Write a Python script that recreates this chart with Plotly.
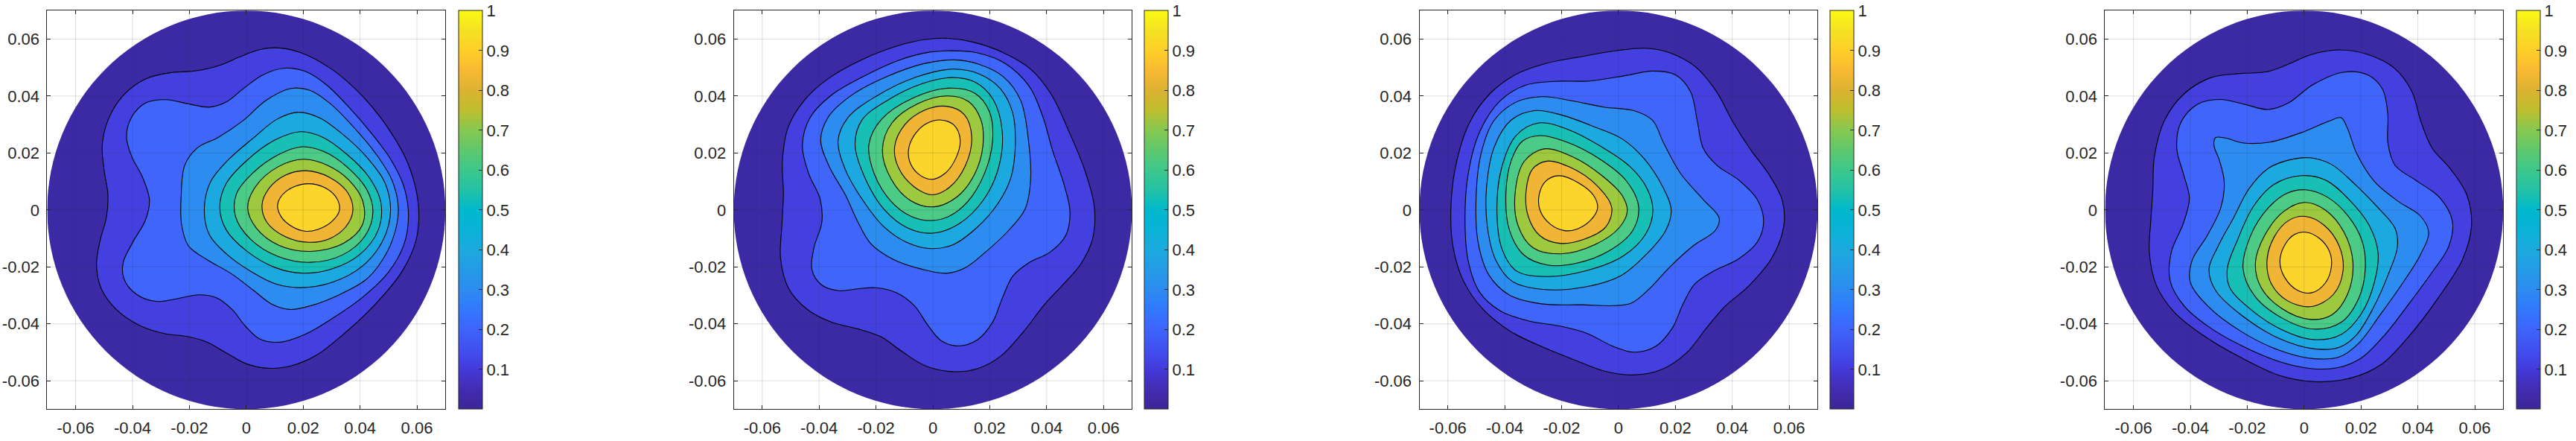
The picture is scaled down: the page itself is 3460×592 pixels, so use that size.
import plotly.graph_objects as go

# Contour levels and the colour of the band inside each one
LEVELS = [0.1, 0.2, 0.3, 0.4, 0.5, 0.6, 0.7, 0.8, 0.9]
DISK_COLOR = "#3c2aa5"
BAND_COLORS = ["#4440e0", "#4065fb", "#2c8cf0", "#1ca9df", "#18bfb5",
               "#4ccb86", "#9dc93f", "#f0b534", "#fbd52c"]
TICKS = [-0.06, -0.04, -0.02, 0, 0.02, 0.04, 0.06]
TICK_LABELS = ["-0.06", "-0.04", "-0.02", "0", "0.02", "0.04", "0.06"]
CBAR_TICKS = [0.1, 0.2, 0.3, 0.4, 0.5, 0.6, 0.7, 0.8, 0.9, 1]
CBAR_LABELS = ["0.1", "0.2", "0.3", "0.4", "0.5", "0.6", "0.7", "0.8", "0.9", "1"]
CBAR_SCALE = [
    [0.0, "rgb(60,38,150)"], [0.05, "rgb(66,44,178)"], [0.1, "rgb(68,58,218)"],
    [0.15, "rgb(66,80,240)"], [0.2, "rgb(62,100,252)"], [0.25, "rgb(50,120,252)"],
    [0.3, "rgb(44,140,240)"], [0.35, "rgb(36,155,230)"], [0.4, "rgb(28,170,222)"],
    [0.45, "rgb(10,178,215)"], [0.5, "rgb(0,184,205)"], [0.55, "rgb(36,194,165)"],
    [0.6, "rgb(60,200,140)"], [0.65, "rgb(95,200,108)"], [0.7, "rgb(135,200,80)"],
    [0.75, "rgb(190,190,45)"], [0.8, "rgb(220,178,50)"], [0.85, "rgb(250,185,50)"],
    [0.9, "rgb(253,207,40)"], [0.95, "rgb(245,225,35)"], [1.0, "rgb(250,250,20)"],
]

# Isolines, (x, y) in thousandths of an axis unit
P1_L1 = [(10.4,56.8),(18.6,55.6),(30.3,49.2),(40.8,40.3),(50.1,27.5),(56.6,17.6),(60.7,0.8),(59.5,-10.1),(54.8,-21.9),(45.5,-32.8),(34.9,-42.7),(24.4,-51.6),(16.2,-54.2),(8.1,-55.7),(-0.1,-54.2),(-7.1,-50.1),(-14.1,-46.1),(-21.2,-44.2),(-28.2,-43.7),(-37.5,-40.7),(-45.7,-34.8),(-51,-27.9),(-52.7,-19),(-51.5,-11),(-49,-2.2),(-48.4,4.7),(-50.1,14.6),(-50.7,22.5),(-48.6,31.4),(-43.4,40.3),(-35.2,46.2),(-27,48.2),(-17.6,48.7),(-10.6,50.2),(-1.3,54.2),(3.4,55.9)]
P1_L2 = [(13.9,49.8),(20.9,48.4),(27.9,44.3),(36.1,35.9),(44.3,26.5),(50.7,17.6),(55.4,8.7),(56.9,-2.2),(55.4,-12.1),(50.1,-21.9),(40.8,-30.8),(30.3,-37.7),(20.9,-43.7),(11.6,-46.6),(4.6,-45.2),(-0.1,-41.2),(-4.8,-34.8),(-10.6,-30.8),(-16.5,-29.8),(-23.5,-30.8),(-31.7,-32.5),(-38.7,-29.8),(-43.1,-23.4),(-43.4,-19),(-39.9,-11),(-35.2,-3.2),(-33.9,2.8),(-36.3,11.7),(-40.4,18.6),(-42.2,25.5),(-40.4,32.4),(-35.2,37.8),(-28.8,38.8),(-19.9,37.2),(-13,35.9),(-7.1,37.8),(-1.3,42.3),(5.7,47.7)]
P1_L3 = [(16.2,42.6),(22.1,41.8),(29.1,37.8),(37.3,29.4),(45.4,19.6),(51.3,10.7),(53.4,-0.2),(51.9,-10.1),(45.5,-20),(43.1,-23.9),(32.6,-29.8),(23.3,-33.3),(15.1,-35),(9.2,-33.3),(2.2,-27.9),(-4.8,-22.4),(-14.1,-17),(-20.6,-13),(-22.6,-5.1),(-22.6,4.7),(-21.7,16.6),(-17.6,21.5),(-9.5,25.5),(-1.3,30.4),(6.9,39.3)]
P1_L4 = [(18.6,34.3),(25.6,32.4),(33.8,26.5),(42,18.6),(49,9.7),(50.4,-0.2),(48.4,-10.1),(40.8,-20),(30.3,-25.4),(18.6,-27.2),(10.4,-25.9),(2.2,-21.9),(-7.1,-15),(-13,-9.1),(-14.7,-0.2),(-12.4,10.7),(-7.1,16.6),(3.4,25.5),(10.4,31.9)]
P1_L5 = [(19.2,27.4),(26.8,25.5),(34.9,19.6),(43.1,11.7),(47.2,2.8),(46.6,-7.1),(39.6,-16),(30.3,-20.5),(19.8,-22.1),(10.4,-20.5),(-0.1,-14),(-7.1,-7.1),(-9.1,0.8),(-7.1,9.7),(-0.1,16.6),(10.4,25)]
P1_L6 = [(19.8,22.1),(26.8,20.6),(36.1,14.6),(42.5,6.7),(44.3,-0.2),(42,-9.1),(33.8,-16),(22.1,-18.3),(11.6,-16.5),(1.1,-10.1),(-3.6,-2.2),(-3.6,5.7),(2.2,12.6),(11.6,19.6)]
P1_L7 = [(20.3,17.8),(27.9,15.6),(36.1,10.7),(41,2.8),(40.8,-5.1),(34.9,-11.6),(22.1,-14.7),(11.6,-12.5),(3.4,-6.1),(0.7,0.8),(2.8,7.7),(11.6,15.6)]
P1_L8 = [(20.7,13.8),(29.1,11.7),(36.1,5.7),(37.3,-0.2),(34.9,-6.1),(29.1,-10.1),(22.1,-11.3),(13.9,-9.6),(6.9,-4.2),(5.7,1.8),(8.1,7.7),(13.9,12.2)]
P1_L9 = [(20.9,9.5),(27.3,7.9),(32,3.8),(32.6,-0.2),(30.3,-4.2),(24.4,-6.9),(21.5,-7.4),(16.2,-6.1),(12.2,-2.2),(11.2,1.8),(13.3,6.2)]

P2_L1 = [(5.3,60.2),(13.4,59.1),(25.1,55.1),(34.5,49.2),(41.5,41.3),(47.4,27.5),(53.2,14.6),(57,0.8),(56.1,-10.1),(52,-19),(46.1,-25.9),(39.1,-32.8),(32,-42.7),(23.9,-51.6),(15.8,-55.5),(7,-56.7),(-2.9,-55),(-11.1,-49.6),(-18.1,-44.2),(-26.3,-41.7),(-35.7,-39.7),(-43.9,-34.8),(-50.9,-27.9),(-53.7,-17),(-53,-5.1),(-52,4.7),(-53.2,17.6),(-50.9,29.4),(-45,38.3),(-36.8,46.2),(-25.1,52.7),(-11.1,58.1),(-2.9,59.6)]
P2_L2 = [(6.4,55.7),(15.8,55.1),(25.1,51.7),(34.5,43.3),(38.6,32.4),(41.5,21.5),(46.2,8.7),(48.2,-0.2),(46.8,-9.1),(41.5,-15),(33.3,-18.5),(28.1,-22.9),(24.4,-30.8),(21.1,-39.7),(15.8,-45.7),(8.8,-47.6),(2.9,-46.1),(-1.8,-40.7),(-6.4,-33.3),(-12.3,-29.3),(-20.5,-27.2),(-26.3,-27.6),(-32.7,-28.6),(-39.2,-26.4),(-42.7,-20.9),(-42.1,-13),(-38.6,-4.2),(-39.2,3.8),(-43.9,12.6),(-46,22.5),(-43.3,32.4),(-35.7,40.3),(-25.1,46.2),(-11.1,53.2),(-1.8,55.1)]
P2_L3 = [(7.6,52.4),(15.8,51.2),(25.1,46.2),(31,39.3),(33.3,24.5),(34.2,9.7),(32.7,0.3),(26.3,-7.1),(18.1,-15),(11.1,-20.5),(4.7,-22.2),(-2.9,-20.9),(-14.6,-17),(-21.6,-12.5),(-26.9,-3.2),(-29.8,4.7),(-36.8,15.6),(-39.5,24.5),(-36.8,32.4),(-28.7,40.3),(-17,46.2),(-2.9,51.7)]
P2_L4 = [(7.6,49.3),(15.8,47.7),(24,42.3),(28.1,34.4),(28.7,22.5),(27.5,10.7),(22.8,2.8),(15.8,-6.1),(6.4,-12.5),(0,-13.4),(-9.9,-11.1),(-17,-6.1),(-24,2.8),(-31,14.6),(-33.3,24.5),(-29.8,32.4),(-20.5,39.3),(-5.3,47.2)]
P2_L5 = [(6.4,46.2),(14.6,44.8),(21,39.3),(24.6,27.5),(22.8,14.6),(18.1,3.8),(8.8,-5.1),(0,-8.1),(-8.8,-6.1),(-17,-0.2),(-23.4,10.7),(-27.5,23.5),(-25.1,31.4),(-15.8,38.3),(-2.9,44.8)]
P2_L6 = [(6.4,42.9),(14.6,40.8),(19.9,34.4),(21,24.5),(18.1,12.6),(12.3,2.8),(5.3,-2.2),(-0.6,-3.5),(-7.6,-2.2),(-14.6,2.8),(-20.5,12.6),(-22.6,23.5),(-18.1,31.4),(-7.6,39.3)]
P2_L7 = [(5.3,39.9),(12.3,38.3),(17,31.4),(17.5,22.5),(14.6,12.6),(8.8,4.7),(0,1),(-7.6,3.3),(-14.6,10.7),(-17.9,21.5),(-14.6,30.4),(-5.3,37.4)]
P2_L8 = [(4.7,36.2),(11.1,33.9),(13.7,25.5),(11.7,15.6),(5.3,7.7),(0,5.5),(-6.4,7.7),(-12.3,15.6),(-13.5,21.5),(-9.9,30.4),(-2.9,34.9)]
P2_L9 = [(2.9,31.5),(7.6,29.9),(9.7,24.5),(8.2,18.6),(4.1,12.6),(-0.4,10.7),(-5.3,12.6),(-8.2,17.6),(-8.5,21.5),(-5.8,27.5),(-1.8,30.4)]

P3_L1 = [(9.7,56.8),(17.9,55.1),(27.3,50.2),(34.3,42.3),(40.1,30.4),(46,21.5),(53,12.6),(57.7,2.8),(58,-5.1),(54.2,-17),(46,-26.9),(36.6,-33.8),(30.8,-41.7),(23.7,-50.6),(15.6,-56),(4.4,-58),(-5.5,-56.5),(-14.9,-52.6),(-26.5,-48.1),(-38.2,-42.7),(-47.6,-34.8),(-54.6,-24.9),(-58.1,-13),(-58.7,-0.2),(-57.5,14.6),(-52.3,31.4),(-45.3,40.3),(-35.9,47.7),(-26.5,51.2),(-12.5,53.7),(-0.8,55.9)]
P3_L2 = [(11.5,48.9),(20.2,47.2),(25.5,42.3),(27.8,30.4),(29.6,21.5),(34.3,15.6),(42.5,10.7),(48.9,3.8),(50.9,-4.2),(48.9,-11.1),(42.5,-17.5),(33.1,-21.4),(26.7,-25.9),(22.6,-32.8),(19.1,-41.7),(13.2,-48.1),(5,-49.9),(-2,-48.1),(-11.3,-42.7),(-20.7,-40.7),(-31.2,-39.2),(-41.8,-35.3),(-48.8,-28.9),(-52.9,-18),(-53.7,-3.2),(-52.9,12.6),(-48.8,27.5),(-41.8,38.3),(-32.4,43.8),(-23,45.3),(-10.2,44.7),(2.7,47.2)]
P3_L3 = [(-26.5,39.8),(-17.2,38.5),(-5.5,35.6),(6.2,34.8),(12,31.9),(15.6,23.5),(21.4,12.6),(29.6,3.8),(35.8,-3.2),(34.3,-7.1),(26.1,-12.1),(17.9,-20),(10.9,-27.9),(3.9,-33),(-0.8,-33.5),(-12.5,-32.8),(-27.7,-33.3),(-38.2,-29.8),(-45.3,-22.9),(-49.4,-12.1),(-49.9,4.7),(-48.2,19.6),(-44.1,31.4),(-35.9,37.8)]
P3_L4 = [(-28.9,34.9),(-20.7,33.4),(-7.8,28.5),(1.5,25),(8.5,18.6),(15.6,7.7),(18.5,-0.2),(16.7,-7.1),(9.7,-15),(0.4,-23.9),(-10.2,-26.4),(-27.7,-28.1),(-37.1,-24.9),(-42.9,-18),(-46.2,-5.1),(-46.2,8.7),(-43.5,22.5),(-38.2,31.4)]
P3_L5 = [(-27.7,30.4),(-18.4,28.5),(-5.5,21.5),(3.9,15.6),(9.7,7.7),(12,-0.2),(9.7,-8.1),(1.5,-16.5),(-10.2,-20.9),(-26.5,-23.4),(-35.9,-21.4),(-40.6,-14),(-42.7,-1.2),(-41.2,14.6),(-35.9,26.5)]
P3_L6 = [(-27.7,26),(-18.4,24),(-6.7,17.6),(2.7,10.7),(7.1,0.8),(5,-7.1),(-3.2,-14.5),(-14.9,-18.5),(-24.2,-19.3),(-33.6,-16),(-38.2,-7.1),(-39.6,4.7),(-37.7,17.6),(-33.6,24)]
P3_L7 = [(-26.5,21.5),(-16,18.6),(-5.5,11.7),(1.5,4.7),(2.7,-0.2),(0.4,-6.1),(-7.8,-12.1),(-20.7,-15.5),(-30.1,-13.5),(-35.3,-5.1),(-36.3,5.7),(-33,17.6)]
P3_L8 = [(-25.4,17),(-17.2,15.1),(-7.8,8.7),(-2,0.8),(-4.3,-6.1),(-12.5,-10.1),(-20.7,-11.8),(-27.7,-9.1),(-31.8,-2.2),(-32.4,6.7),(-30.1,14.6)]
P3_L9 = [(-21.3,12.2),(-14.3,9.7),(-8.4,4.7),(-7.5,0.8),(-9.6,-3.7),(-14.9,-6.6),(-18.4,-7.3),(-24.2,-5.1),(-27.5,-0.2),(-28,4.7),(-25.4,10.2)]

P4_L1 = [(11.8,56.3),(22.3,54.6),(31.7,49.7),(38.1,42.3),(41,30.4),(44.5,21.5),(51.5,14.6),(57.4,5.7),(58.5,-6.1),(56.2,-17),(46.9,-30.8),(36.4,-44.7),(27,-54.5),(17.7,-58.5),(3.6,-60.3),(-8.1,-58.5),(-22.1,-51.6),(-36.1,-43.7),(-45.5,-35.8),(-51.9,-26.9),(-54.6,-15),(-53.7,-3.2),(-52.7,6.7),(-53.1,17.6),(-49,32.4),(-42,40.3),(-32.6,47.2),(-22.1,47.7),(-12.7,48.2),(-5.7,51.2),(2.5,54.6)]
P4_L2 = [(14.1,48.7),(22.3,47.2),(27.6,42.3),(29.7,34.4),(29.3,22.5),(31.7,15.6),(38.7,10.7),(48,4.7),(52.1,-4.2),(51,-13),(44.5,-21.9),(36.3,-33.8),(28.2,-43.7),(20,-52.6),(11.8,-55),(3,-55.7),(-8.1,-53.6),(-22.1,-47.6),(-33.8,-40.7),(-42,-33.8),(-47.2,-24.9),(-47.2,-15),(-42,-4.2),(-39.9,3.8),(-42.5,12.6),(-44.9,21.5),(-43.7,30.4),(-37.3,37.4),(-29.7,38.8),(-20.9,37.2),(-12.2,35.1),(-5.7,36.9),(2.5,44.3)]
P4_L3 = [(12.7,32.2),(15.3,29.4),(18.2,19.6),(24.7,9.7),(32.9,2.8),(41,-1.7),(43.9,-8.1),(41,-15),(34,-26.9),(27,-35.8),(18.8,-47.6),(13,-51.1),(3.6,-52.2),(-8.1,-49.6),(-22.1,-42.7),(-33.8,-33.8),(-40.2,-24.9),(-39.6,-18),(-33.8,-9.1),(-29.1,0.8),(-28,9.7),(-29.7,17.6),(-32,22.5),(-30.9,25.5),(-27.9,25.5),(-20.9,23.3),(-12.7,23.5),(0.1,27.5),(9.5,31.4)]
P4_L4 = [(1.9,18.1),(9.5,16.6),(17.7,8.7),(25.8,0.8),(32.3,-7.1),(32.8,-12.1),(29.3,-22.9),(24.7,-33.8),(17.7,-44.7),(13,-47.6),(3.6,-48.8),(-8.1,-45.7),(-22.1,-36.8),(-31.4,-27.9),(-33.4,-20.9),(-30.3,-13),(-24.4,-3.2),(-19.7,7.7),(-12.7,14.6),(-5.7,17.1)]
P4_L5 = [(0.1,11.9),(7.1,10.7),(15.3,3.8),(23.5,-6.1),(25.8,-15),(24.7,-24.9),(20,-36.8),(13,-43.7),(3.6,-45.5),(-8.1,-42.2),(-19.8,-33.8),(-26.2,-26.9),(-27,-20.9),(-23.3,-11.1),(-17.4,1.8),(-11.6,8.7)]
P4_L6 = [(0.1,6.9),(8.3,4.7),(15.3,-2.2),(20.6,-11.1),(21.2,-20),(19.4,-30.8),(13,-39.7),(3.6,-42),(-8.1,-37.7),(-17.4,-29.8),(-21.9,-20.9),(-18.6,-9.1),(-12.7,0.8),(-5.7,5.7)]
P4_L7 = [(0.1,2.4),(7.1,0.3),(14.1,-8.1),(17.3,-18),(15.3,-29.8),(9.5,-36.8),(2.5,-38.4),(-8.1,-34.8),(-15.1,-26.9),(-17.2,-19),(-13.9,-9.1),(-6.9,-0.2)]
P4_L8 = [(0.1,-2.4),(7.1,-5.1),(12.4,-13),(13.6,-20.9),(10.6,-29.8),(2.5,-34.3),(-5.7,-31.8),(-11.6,-25.9),(-13.1,-18),(-10.4,-9.1),(-5.1,-3.7)]
P4_L9 = [(0.1,-7.8),(6,-10.1),(8.9,-15),(9.5,-19.5),(7.7,-25.9),(2.5,-29.1),(-2.2,-28.4),(-6.9,-23.4),(-8.6,-18.5),(-6.9,-12.1),(-2.8,-8.6)]

PANELS = [
    [P1_L1, P1_L2, P1_L3, P1_L4, P1_L5, P1_L6, P1_L7, P1_L8, P1_L9],
    [P2_L1, P2_L2, P2_L3, P2_L4, P2_L5, P2_L6, P2_L7, P2_L8, P2_L9],
    [P3_L1, P3_L2, P3_L3, P3_L4, P3_L5, P3_L6, P3_L7, P3_L8, P3_L9],
    [P4_L1, P4_L2, P4_L3, P4_L4, P4_L5, P4_L6, P4_L7, P4_L8, P4_L9],
]
DISK_RADIUS = 0.07

# Page geometry in pixels
W, H = 3460, 592
AX_X = [(63.4, 598.2), (985.6, 1520.4), (1906.5, 2441.3), (2827.4, 3362.2)]
CB_X = [615.6, 1537.4, 2458.3, 3379.6]
AX_TOP, AX_BOTTOM = 14.3, 549.3
INK = "#262626"
FONT = "Liberation Sans, Arial, sans-serif"
FONT_SIZE = 22


def steady(pts, rounds=2, shrink=0.4, grow=-0.42):
    """Take the hand-reading jitter out of a closed outline without shrinking it."""
    out = [list(p) for p in pts]
    n = len(out)
    for _ in range(rounds):
        for k in (shrink, grow):
            out = [[out[j][c] + k * ((out[j - 1][c] + out[(j + 1) % n][c]) / 2 - out[j][c])
                    for c in (0, 1)] for j in range(n)]
    return out


fig = go.Figure()
layout = dict(width=W, height=H, autosize=False, margin=dict(l=0, r=0, t=0, b=0),
              paper_bgcolor="white", plot_bgcolor="white", showlegend=False,
              font=dict(family=FONT, size=FONT_SIZE, color=INK), shapes=[])

for i, levels in enumerate(PANELS):
    n = "" if i == 0 else str(i + 1)
    xa, ya = "x" + n, "y" + n
    axis = dict(range=[-DISK_RADIUS, DISK_RADIUS], tickvals=TICKS, ticktext=TICK_LABELS,
                showgrid=False, zeroline=False, showline=True, linecolor=INK, linewidth=1,
                mirror="ticks", ticks="inside", ticklen=5, tickwidth=1, tickcolor=INK,
                tickfont=dict(family=FONT, size=FONT_SIZE, color=INK), layer="above traces")
    layout["xaxis" + n] = dict(axis, domain=[AX_X[i][0] / W, AX_X[i][1] / W], anchor=ya,
                               ticklabelstandoff=5)
    layout["yaxis" + n] = dict(axis, domain=[1 - AX_BOTTOM / H, 1 - AX_TOP / H], anchor=xa,
                               ticklabelstandoff=5)
    layout["shapes"].append(dict(type="circle", xref=xa, yref=ya, layer="below",
                                 x0=-DISK_RADIUS, x1=DISK_RADIUS, y0=-DISK_RADIUS, y1=DISK_RADIUS,
                                 fillcolor=DISK_COLOR, line=dict(width=0)))
    for t in TICKS:
        layout["shapes"].append(dict(type="line", xref=xa, yref=ya, layer="above",
                                     x0=t, x1=t, y0=-DISK_RADIUS, y1=DISK_RADIUS,
                                     line=dict(color="rgba(38,38,38,0.15)", width=1)))
        layout["shapes"].append(dict(type="line", xref=xa, yref=ya, layer="above",
                                     y0=t, y1=t, x0=-DISK_RADIUS, x1=DISK_RADIUS,
                                     line=dict(color="rgba(38,38,38,0.15)", width=1)))
    for level, pts, color in zip(LEVELS, levels, BAND_COLORS):
        ring = steady(pts)
        xs = [p[0] / 1000 for p in ring] + [ring[0][0] / 1000]
        ys = [p[1] / 1000 for p in ring] + [ring[0][1] / 1000]
        fig.add_trace(go.Scatter(x=xs, y=ys, xaxis=xa, yaxis=ya, mode="lines", name=f"{level:.1f}",
                                 line=dict(color="black", width=1.1, shape="spline", smoothing=1.0),
                                 fill="toself", fillcolor=color, hoverinfo="name"))
    fig.add_trace(go.Scatter(
        x=[None], y=[None], xaxis=xa, yaxis=ya, mode="markers", hoverinfo="skip",
        marker=dict(color=[0.5], cmin=0, cmax=1, colorscale=CBAR_SCALE, showscale=True,
                    colorbar=dict(x=CB_X[i] / W, xanchor="left", xref="paper",
                                  y=1 - AX_BOTTOM / H, yanchor="bottom", yref="paper",
                                  len=(AX_BOTTOM - AX_TOP) / H, lenmode="fraction",
                                  thickness=31.7, thicknessmode="pixels", xpad=0, ypad=0,
                                  outlinecolor=INK, outlinewidth=1, tickvals=CBAR_TICKS,
                                  ticktext=CBAR_LABELS, ticks="inside", ticklen=5, tickwidth=1,
                                  tickcolor=INK, tickfont=dict(family=FONT, size=FONT_SIZE, color=INK)))))

fig.update_layout(**layout)
fig.write_html("out.html", config={"displayModeBar": False},
               post_script="document.body.style.margin='0';")
